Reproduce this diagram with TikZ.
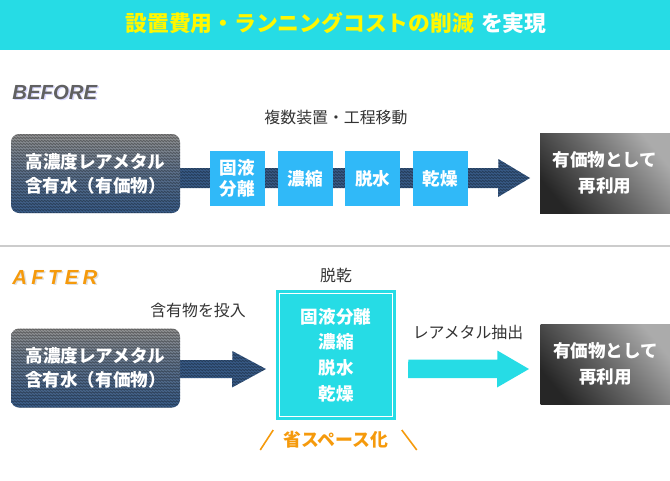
\documentclass[tikz,border=0pt]{standalone}
\usepackage{fontspec}
\newfontfamily\jp{Noto Sans CJK JP}
\newfontfamily\lblfont{Liberation Sans}
\newfontfamily\lblwide{Liberation Sans}[LetterSpace=21]
\usetikzlibrary{positioning}
\usetikzlibrary{backgrounds}
\usetikzlibrary{decorations.pathmorphing}
\def\PX{0.025cm}
\definecolor{barcyan}{HTML}{26DCE5}
\definecolor{boxblue}{HTML}{30B9F8}
\definecolor{navy}{HTML}{3A5E8C}
\definecolor{srctop}{HTML}{979797}
\definecolor{labelgray}{HTML}{333333}
\definecolor{accent}{HTML}{F59A0C}
\definecolor{titleyellow}{HTML}{FFF700}
\tikzset{
every node/.style={inner sep=0pt},
note/.style={font=\jp\fontsize{11.3}{13}\selectfont,text=labelgray},
zzline/.style={sharp corners,decorate,decoration={zigzag,segment length=3*\PX,amplitude=0.9*\PX},
  draw=black,draw opacity=0.35,line width=0.8*\PX},
zz/.style={path picture={
  \foreach \r in {1,4,...,100}
    \draw[zzline] ([shift={(-3*\PX,-\r*\PX)}]path picture bounding box.north west)
      -- ([shift={(3*\PX,-\r*\PX)}]path picture bounding box.north east);
}},
srcbox/.style={rounded corners=8*\PX,minimum width=169*\PX,minimum height=79*\PX,
  preaction={top color=srctop,bottom color=navy,middle color=srctop!40!navy},zz,
  align=center,text=white,font=\jp\bfseries\fontsize{12.5}{17.2}\selectfont},
band/.style={fill=navy,zz},
proc/.style={fill=boxblue,minimum size=55*\PX,align=center,text=white,
  font=\jp\bfseries\fontsize{12.5}{14.4}\selectfont},
dst/.style={minimum width=130*\PX,minimum height=80*\PX,
  top color=black!33,bottom color=black!85,middle color=black!60,shading angle=-50,
  align=center,text=white,font=\jp\bfseries\fontsize{12.5}{18}\selectfont},
dryer/.style={fill=barcyan,minimum width=120*\PX,minimum height=130*\PX,
  align=center,text=white,font=\jp\bfseries\fontsize{12.5}{18.3}\selectfont},
stage/.style={font=\lblfont\bfseries\itshape\fontsize{14.5}{16}\selectfont,anchor=west},
}
\begin{document}
\begin{tikzpicture}[x=0.025cm,y=-0.025cm,node distance=0.3cm]
\useasboundingbox (0,0) rectangle (670,480);
% title
\node[fill=barcyan,minimum width=670*\PX,minimum height=50*\PX] (bar) at (335,25) {};
\node[font=\jp\bfseries\fontsize{15.5}{18}\selectfont] (title) at (336,23)
  {\textcolor{titleyellow}{設置費用・ランニングコストの削減}\hspace{5pt}\textcolor{white}{を実現}};
\draw[black!20,line width=1.2*\PX] (0,246) -- (670,246);

% before
\node[stage,text=blue!15] at (13.5,93.5) {BEFORE};
\node[stage,text=black!62] (before) at (12,92) {BEFORE};
\node[note] (multi) at (336,117) {複数装置・工程移動};
\node[srcbox] (src1) at (95.5,173.5) {高濃度レアメタル\\含有水（有価物）};
\node[proc] (p1) at (237.5,178.5) {固液\\分離};
\node[proc] (p2) [right=of p1] {濃縮};
\node[proc] (p3) [right=of p2] {脱水};
\node[proc] (p4) [right=of p3] {乾燥};
\node[dst] (dst1) at (605,173) {有価物として\\再利用};
\coordinate (t1) at (530,178);

% after
\node[stage,text=black!12,font=\lblwide\bfseries\itshape\fontsize{14.5}{16}\selectfont] at (13.5,278.5) {AFTER};
\node[stage,text=accent,font=\lblwide\bfseries\itshape\fontsize{14.5}{16}\selectfont] (after) at (12,277) {AFTER};
\node[note] (feed) at (198,310) {含有物を投入};
\node[srcbox] (src2) at (95.5,368) {高濃度レアメタル\\含有水（有価物）};
\coordinate (t2) at (266,369);
\node[note] (dry) at (336,275) {脱乾};
\node[dryer] (unit) at (336,355) {固液分離\\濃縮\\脱水\\乾燥};
\draw[white,line width=1.2*\PX] ([shift={(4,4)}]unit.north west) rectangle ([shift={(-4,-4)}]unit.south east);
\node[note] (extract) at (468,332) {レアメタル抽出};
\coordinate (t3) at (529,369);
\node[dst] (dst2) at (605.5,364) {有価物として\\再利用};
\node[font=\jp\bfseries\fontsize{12.7}{15}\selectfont,text=accent] (space) at (336,440) {省スペース化};
\draw[accent,line width=1.6*\PX] ([shift={(-23,10)}]space.west) -- ++(13,-20);
\draw[accent,line width=1.6*\PX] ([shift={(13,-10)}]space.east) -- ++(15,20);

\begin{scope}[on background layer]
\fill[band] (src1.east |- t1) ++(-10,-10) -- ++(328,0) -- ++(0,-9) -- (t1) -- ++(-32,19) -- ++(0,-9) -- ++(-328,0) -- cycle;
\fill[band] (src2.east |- t2) ++(-10,-9) -- ++(62,0) -- ++(0,-9) -- (t2) -- ++(-34,18.5) -- ++(0,-9.5) -- ++(-62,0) -- cycle;
\fill[barcyan] (unit.east |- t3) ++(12,-9.5) -- ++(89,0) -- ++(0,-9) -- (t3) -- ++(-32,18.5) -- ++(0,-9.5) -- ++(-89,0) -- cycle;
\end{scope}
\end{tikzpicture}
\end{document}
